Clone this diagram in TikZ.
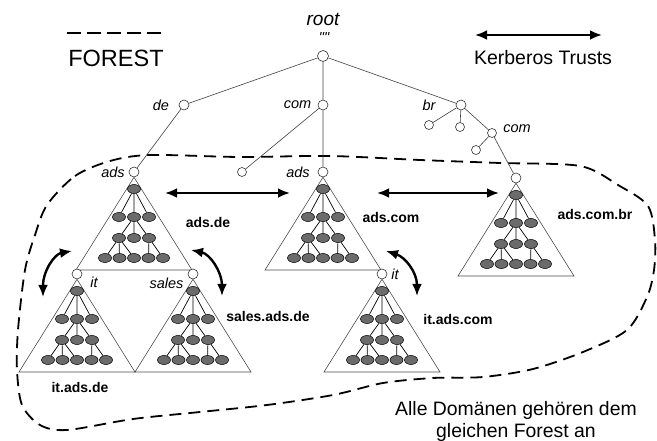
\documentclass[tikz,border=0pt]{standalone}
\usepackage{fontspec}
\setmainfont{Liberation Sans}
\usetikzlibrary{arrows.meta,shapes.geometric}

\tikzset{
  dom/.style={circle, draw=black!80, fill=white, line width=0.6pt, minimum size=10pt, inner sep=0pt},
  smalldom/.style={dom, minimum size=9pt},
  leaf/.style={ellipse, draw=black, fill=black!58, line width=0.5pt, minimum width=13pt, minimum height=9pt, inner sep=0pt},
  treeline/.style={draw=black!75, line width=0.6pt},
  inner/.style={draw=black, line width=0.7pt},
  tri/.style={draw=black!70, line width=0.6pt},
  trust/.style={draw=black, line width=2.4pt, {Latex[length=12pt,width=10pt]}-{Latex[length=12pt,width=10pt]}},
  forestline/.style={draw=black, line width=1.8pt, dash pattern=on 12pt off 7pt},
  lbl/.style={font=\fontsize{14.5}{16}\selectfont\itshape, inner sep=0pt},
  dname/.style={font=\fontsize{14}{16}\selectfont\bfseries, inner sep=0pt},
  domtree/.pic={
    \node[dom] (-c) at (0,0) {};
    \draw[tri] (-c.south) -- (-58,98) -- (58,98) -- cycle;
    \node[leaf] (-t) at (0,17) {};
    \node[leaf] (-a1) at (-15,45) {};
    \node[leaf] (-a2) at (0,45) {};
    \node[leaf] (-a3) at (15,45) {};
    \node[leaf] (-b1) at (-15,66) {};
    \node[leaf] (-b2) at (0,66) {};
    \node[leaf] (-b3) at (15,66) {};
    \node[leaf] (-c1) at (-29,86) {};
    \node[leaf] (-c2) at (-14.5,86) {};
    \node[leaf] (-c3) at (0,86) {};
    \node[leaf] (-c4) at (14.5,86) {};
    \node[leaf] (-c5) at (29,86) {};
    \draw[inner] (-t) -- (-a1) (-t) -- (-a2) (-t) -- (-a3)
                 (-a2) -- (-b1) (-a2) -- (-b2) (-a2) -- (-b3)
                 (-b1) -- (-c1) (-b1) -- (-c2) (-b1) -- (-c3)
                 (-b3) -- (-c4) (-b3) -- (-c5);
  }
}

\begin{document}
\begin{tikzpicture}[x=1pt, y=-1pt]
\useasboundingbox (0,0) rectangle (657,441);

% forest boundary
\draw[forestline] plot[smooth cycle, tension=0.5] coordinates {
  (47,205) (75,176) (110,161) (150,155) (240,157) (330,156) (420,160)
  (500,163) (580,166) (618,185) (648,206) (655,240) (654,270) (647,297)
  (627,330) (583,352) (533,369) (483,377) (433,378) (383,383) (333,395)
  (267,405) (200,412) (133,419) (67,430) (40,425) (22,405) (17,370)
  (18,330) (25,270) (35,235)};

% legend
\coordinate (fl1) at (67,33);
\coordinate (fl2) at (163,33);
\draw[draw=black, line width=1.6pt, dash pattern=on 14pt off 6pt] (fl1) -- (fl2);
\node[font=\fontsize{23.5}{25}\selectfont, inner sep=0pt] (forestlbl) at (116,58) {FOREST};
\coordinate (kl1) at (475,35);
\coordinate (kl2) at (602,35);
\draw[trust] (kl1) -- (kl2);
\node[font=\fontsize{19.5}{22}\selectfont, inner sep=0pt] (kerblbl) at (543,58) {Kerberos Trusts};

% upper namespace tree
\node[dom, minimum size=11pt] (root) at (323,56) {};
\node[font=\fontsize{19}{21}\selectfont\itshape, inner sep=0pt] (rootlbl) at (323,19) {root};
\node[lbl] (rootq) at (324,38) {\textquotedbl\textquotedbl};
\node[dom] (de) at (184,105) {};
\node[dom] (com) at (323,105) {};
\node[dom] (br) at (461,105) {};
\node[smalldom] (br1) at (429,125) {};
\node[smalldom] (br2) at (460,127) {};
\node[smalldom] (brcom) at (492,133) {};
\node[smalldom] (brcom1) at (476,150) {};
\node[smalldom] (com1) at (242,172) {};

% domain subtrees
\pic (adsde) at (134,172) {domtree};
\pic (adscom) at (323,172) {domtree};
\pic (adscombr) at (516,178) {domtree};
\pic (itadsde) at (77,274) {domtree};
\pic (salesadsde) at (193,274) {domtree};
\pic (itadscom) at (382,274) {domtree};

\draw[treeline] (root) -- (de) (root) -- (com) (root) -- (br)
  (de) -- (adsde-c) (com) -- (adscom-c) (com) -- (com1)
  (br) -- (br1) (br) -- (br2) (br) -- (brcom)
  (brcom) -- (brcom1) (brcom) -- (adscombr-c);

% node labels
\node[lbl] (delbl) at (161,105) {de};
\node[lbl] (comlbl) at (297.5,105) {com};
\node[lbl] (brlbl) at (429,105) {br};
\node[lbl] (brcomlbl) at (517,129) {com};
\node[lbl] (adscomlbl) at (298,172) {ads};
\node[lbl] (adsdelbl) at (113,172) {ads};
\node[lbl] (itdelbl) at (94,282) {it};
\node[lbl] (saleslbl) at (166.5,283) {sales};
\node[lbl] (itcomlbl) at (395,274) {it};

% domain names
\node[dname] (n1) at (208,222) {ads.de};
\node[dname] (n2) at (391,217) {ads.com};
\node[dname] (n3) at (595,214) {ads.com.br};
\node[dname] (n4) at (268,316) {sales.ads.de};
\node[dname] (n5) at (458,319) {it.ads.com};
\node[dname] (n6) at (80,387) {it.ads.de};

% trusts
\coordinate (t1a) at (165,193);
\coordinate (t1b) at (290,193);
\coordinate (t2a) at (377,193);
\coordinate (t2b) at (499,193);
\draw[trust] (t1a) -- (t1b);
\draw[trust] (t2a) -- (t2b);
\coordinate (c1a) at (72,251);
\coordinate (c1b) at (43,297);
\draw[trust] (c1a) .. controls (55,254) and (43,270) .. (c1b);
\coordinate (c2a) at (191,250);
\coordinate (c2b) at (222,296);
\draw[trust] (c2a) .. controls (210,254) and (222,272) .. (c2b);
\coordinate (c3a) at (386,251);
\coordinate (c3b) at (417,296);
\draw[trust] (c3a) .. controls (405,257) and (417,272) .. (c3b);

% note
\node[font=\fontsize{19.4}{22}\selectfont, align=center, inner sep=0pt] (note) at (516,421)
  {Alle Domänen gehören dem\\gleichen Forest an};
\end{tikzpicture}
\end{document}
